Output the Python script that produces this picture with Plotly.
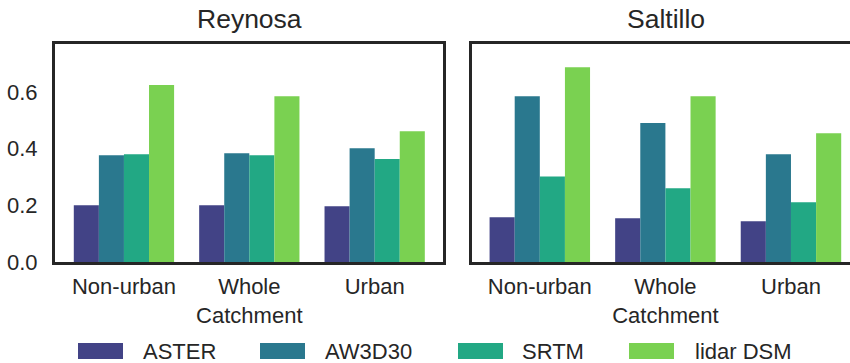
import plotly.graph_objects as go

# Grouped bar chart: score per DEM source, by land-cover class, for two cities
categories = ["Non-urban", "Whole<br>Catchment", "Urban"]
series_names = ["ASTER", "AW3D30", "SRTM", "lidar DSM"]
series_colors = ["#424386", "#2a788e", "#22a884", "#7ad151"]

reynosa_aster = [0.200, 0.200, 0.197]
reynosa_aw3d30 = [0.377, 0.384, 0.401]
reynosa_srtm = [0.380, 0.377, 0.363]
reynosa_lidar = [0.624, 0.585, 0.461]

saltillo_aster = [0.158, 0.154, 0.144]
saltillo_aw3d30 = [0.585, 0.490, 0.380]
saltillo_srtm = [0.302, 0.260, 0.211]
saltillo_lidar = [0.687, 0.585, 0.454]

panel_titles = ["Reynosa", "Saltillo"]
y_ticks = [0.0, 0.2, 0.4, 0.6]

W, H = 850, 363
INK = "#262626"
FONT = "Liberation Sans, Arial, sans-serif"


def px_x(p):
    return p / W


def px_y(p):
    return 1 - p / H


reynosa = [reynosa_aster, reynosa_aw3d30, reynosa_srtm, reynosa_lidar]
saltillo = [saltillo_aster, saltillo_aw3d30, saltillo_srtm, saltillo_lidar]

fig = go.Figure()
for name, color, vals in zip(series_names, series_colors, reynosa):
    fig.add_trace(go.Bar(x=categories, y=vals, name=name, marker_color=color,
                         marker_line_width=0, xaxis="x", yaxis="y", showlegend=False))
for name, color, vals in zip(series_names, series_colors, saltillo):
    fig.add_trace(go.Bar(x=categories, y=vals, name=name, marker_color=color,
                         marker_line_width=0, xaxis="x2", yaxis="y2", showlegend=False))

y_dom = [px_y(262), px_y(44)]
axis_common = dict(showgrid=False, zeroline=False, showline=True, linewidth=3,
                   linecolor=INK, ticks="", automargin=False,
                   tickfont=dict(family=FONT, size=22, color=INK))

fig.update_layout(
    template="none",
    width=W, height=H,
    margin=dict(l=0, r=0, t=0, b=0, pad=0),
    paper_bgcolor="white", plot_bgcolor="white",
    barmode="group", bargap=0.2, bargroupgap=0,
    font=dict(family=FONT, color=INK),
    xaxis=dict(domain=[px_x(55), px_x(443)], range=[-0.55, 2.545], mirror=True,
               anchor="y", ticklabelstandoff=3, **axis_common),
    yaxis=dict(domain=y_dom, range=[0, 0.769], mirror=True, anchor="x",
               tickvals=y_ticks, tickformat=".1f", ticklabelstandoff=10, **axis_common),
    xaxis2=dict(domain=[px_x(472), 1.0], range=[-0.54, 2.47], mirror=True,
                anchor="y2", ticklabelstandoff=3, **axis_common),
    yaxis2=dict(domain=y_dom, range=[0, 0.769], mirror=False, anchor="x2",
                showticklabels=False, tickvals=y_ticks, **axis_common),
)

# Panel titles
for title, cx in zip(panel_titles, [249.5, 665.5]):
    fig.add_annotation(text=title, x=px_x(cx), y=px_y(19), xref="paper", yref="paper",
                       xanchor="center", yanchor="middle", showarrow=False,
                       font=dict(family=FONT, size=26.5, color=INK))

# Legend row along the bottom
legend_patch_x = [78, 260, 458, 629]
legend_text_x = [141, 323, 520, 693]
for name, color, bx, tx in zip(series_names, series_colors, legend_patch_x, legend_text_x):
    fig.add_shape(type="rect", xref="paper", yref="paper",
                  x0=px_x(bx), x1=px_x(bx + 45), y0=px_y(359), y1=px_y(343),
                  fillcolor=color, line_width=0)
    fig.add_annotation(text=name, x=px_x(tx), y=px_y(351), xref="paper", yref="paper",
                       xanchor="left", yanchor="middle", showarrow=False,
                       font=dict(family=FONT, size=22, color=INK))

fig.write_html("out.html")
